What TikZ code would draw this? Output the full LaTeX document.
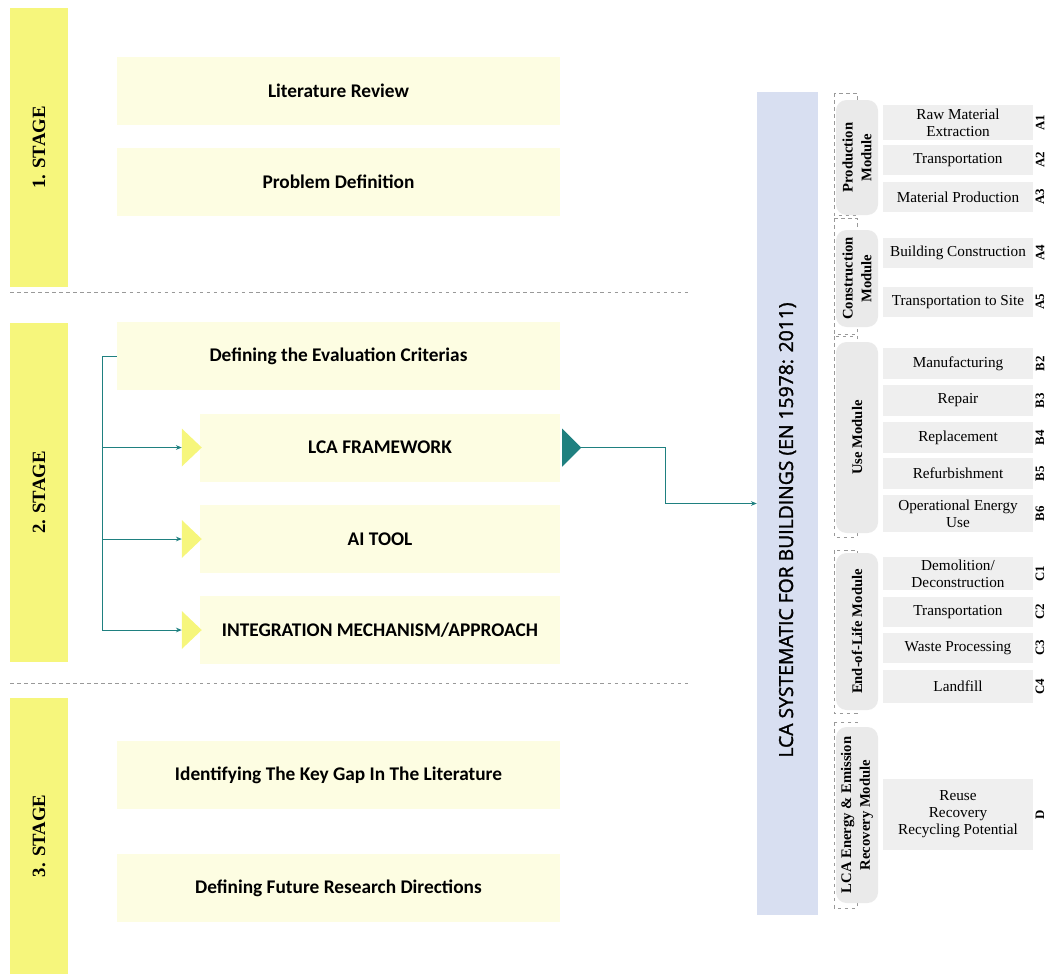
\documentclass[tikz,border=0pt]{standalone}
\usepackage{fontspec}
\setmainfont{Liberation Serif}
\newfontfamily\boxfont{Carlito}
\newfontfamily\barfont[FakeBold=1.6]{Open Sans}
\usetikzlibrary{calc,arrows.meta,positioning}
\newlength\unitpx
\setlength\unitpx{0.03cm}
\definecolor{stageyellow}{HTML}{F6F67C}
\definecolor{paleyellow}{HTML}{FDFDE2}
\definecolor{barblue}{HTML}{D8DFF1}
\definecolor{linkteal}{HTML}{1F8080}
\definecolor{itemgray}{HTML}{EFEFEF}
\definecolor{modgray}{HTML}{EAEAEA}
\begin{document}
\begin{tikzpicture}
[x=0.03cm,y=-0.03cm,>={Stealth[length=5pt,width=4pt]},
stagebar/.style = {fill=stageyellow, rotate=90, inner sep=0pt, minimum height=58\unitpx, font=\bfseries\fontsize{16}{18}\selectfont},
stepbox/.style = {fill=paleyellow, inner sep=0pt, minimum height=68\unitpx, font=\boxfont\bfseries\fontsize{16.5}{18}\selectfont},
widebox/.style = {stepbox, minimum width=443\unitpx},
narrowbox/.style = {stepbox, minimum width=360\unitpx},
conn/.style = {draw=linkteal, line width=0.8pt},
sep/.style = {draw=gray!80, dashed, line width=0.8pt},
item/.style = {fill=itemgray, inner sep=0pt, minimum width=150\unitpx, align=center, font=\fontsize{13}{14.5}\selectfont},
code/.style = {rotate=90, inner sep=0pt, font=\bfseries\fontsize{11}{12}\selectfont},
module/.style = {fill=modgray, rounded corners=9pt, rotate=90, inner sep=0pt, minimum height=42\unitpx, align=center, font=\bfseries\fontsize{12.5}{16}\selectfont},
grp/.style = {draw=gray!80, dashed, line width=0.7pt},]
\useasboundingbox (0,0) rectangle (1046,974);
% stages
\node (s1) at (39,147.5)[stagebar, minimum width=279\unitpx] {1. STAGE};
\node (s2) at (39,492.5)[stagebar, minimum width=339\unitpx] {2. STAGE};
\node (s3) at (39,836)[stagebar, minimum width=276\unitpx] {3. STAGE};
\draw[sep] (10,292) -- (690,292);
\draw[sep] (10,683) -- (690,683);
% left boxes
\node (lit) at (338.5,91)[widebox] {Literature Review};
\node (prob) at (338.5,182)[widebox] {Problem Definition};
\node (eval) at (338.5,356)[widebox] {Defining the Evaluation Criterias};
\node (lca) at (380,447.5)[narrowbox] {LCA FRAMEWORK};
\node (ai) at (380,539)[narrowbox] {AI TOOL};
\node (int) at (380,630)[narrowbox] {INTEGRATION MECHANISM/APPROACH};
\node (gap) at (338.5,775)[widebox] {Identifying The Key Gap In The Literature};
\node (fut) at (338.5,888)[widebox] {Defining Future Research Directions};
% branches
\coordinate (jn) at ($(eval.west)+(-14,0)$);
\draw[conn] (eval.west) -- (jn);
\foreach \n in {lca,ai,int}{
  \coordinate (\n-in) at ($(\n.west)+(-18,0)$);
  \draw[conn,->] (jn) |- (\n-in);
  \fill[stageyellow] ($(\n-in)+(0,-19)$) -- ($(\n-in)+(20,0)$) -- ($(\n-in)+(0,19)$) -- cycle;
}
% systematic bar
\node (bar) at (787.5,503.5)[fill=barblue, rotate=90, inner sep=0pt, minimum width=823\unitpx, minimum height=61\unitpx] {};
\node (bartxt) at (787.5,530)[rotate=90, inner sep=0pt, font=\barfont\fontsize{16.5}{18}\selectfont] {LCA SYSTEMATIC FOR BUILDINGS (EN 15978: 2011)};
\coordinate (lca-out) at ($(lca.east)+(21,0)$);
\fill[linkteal] ($(lca.east)+(2,-19)$) -- (lca-out) -- ($(lca.east)+(2,19)$) -- cycle;
\draw[conn,->] (lca-out) -- ++(84,0) |- (bar.north);
% module groups
\draw[grp] (834,93) rectangle (857,215);
\draw[grp] (834,218) rectangle (857,334);
\draw[grp] (834,336) rectangle (857,537);
\draw[grp] (834,550) rectangle (857,713);
\draw[grp] (834,722) rectangle (857,908);
\node (mprod) at (857,157.5)[module, minimum width=115\unitpx] {Production\\Module};
\node (mcons) at (857,278.5)[module, minimum width=97\unitpx] {Construction\\Module};
\node (muse) at (857,437.5)[module, minimum width=191\unitpx] {Use Module};
\node (meol) at (857,631.5)[module, minimum width=157\unitpx] {End-of-Life Module};
\node (mrec) at (857,815)[module, minimum width=176\unitpx] {LCA Energy \& Emission\\Recovery Module};
% stages of the modules
\foreach \c/\y/\h/\t in {
  A1/122.5/35/{Raw Material\\Extraction},
  A2/160/30/{Transportation},
  A3/197/30/{Material Production},
  A4/253/30/{Building Construction},
  A5/302/30/{Transportation to Site},
  B2/363.5/31/{Manufacturing},
  B3/400.5/31/{Repair},
  B4/437.5/31/{Replacement},
  B5/473.5/31/{Refurbishment},
  B6/513.5/37/{Operational Energy\\Use},
  C1/573.5/33/{Demolition/\\Deconstruction},
  C2/612/30/{Transportation},
  C3/648/30/{Waste Processing},
  C4/686.5/33/{Landfill},
  D/814.5/71/{Reuse\\Recovery\\Recycling Potential}}{
  \node (i\c) at (958,\y)[item, minimum height=\h\unitpx] {\t};
  \node (c\c) at (1040,\y)[code] {\c};
}
\end{tikzpicture}
\end{document}
